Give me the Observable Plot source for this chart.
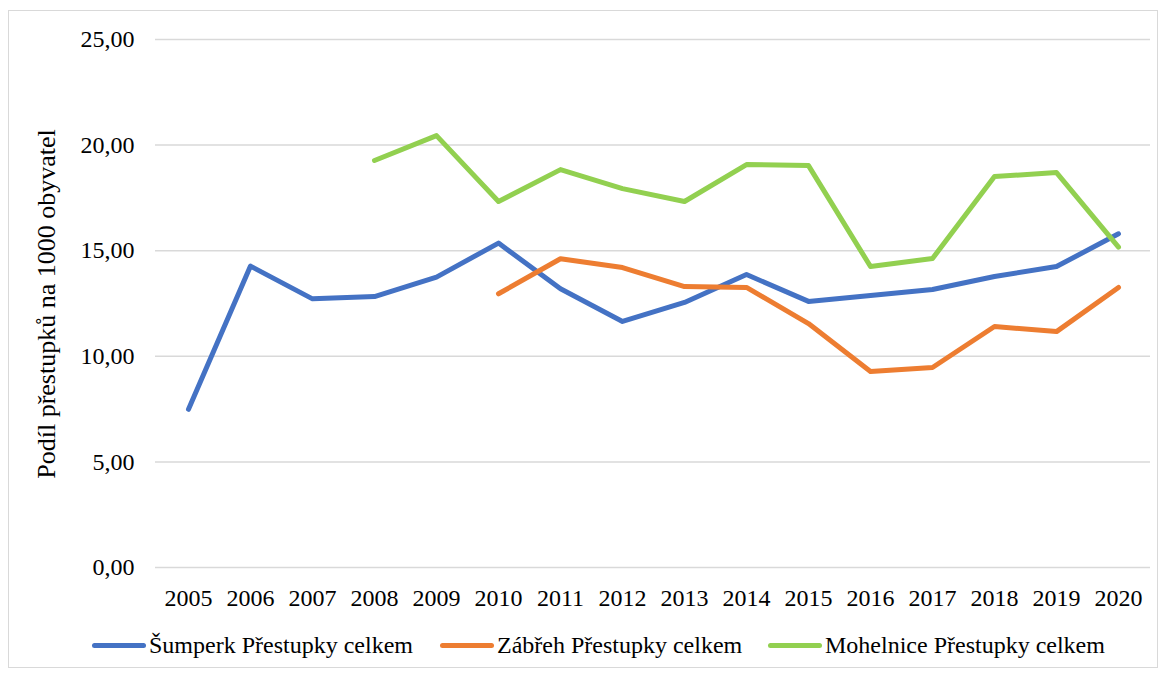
<!DOCTYPE html>
<html>
<head>
<meta charset="utf-8">
<script src="https://cdn.jsdelivr.net/npm/d3@7"></script>
<script src="https://cdn.jsdelivr.net/npm/@observablehq/plot@0.6"></script>
</head>
<body style="margin:0;background:#fff;font-family:'Liberation Serif',serif;">
<div id="wrap" style="position:relative;width:1169px;height:675px;font-family:'Liberation Serif',serif;">
  <div id="border" style="position:absolute;left:8px;top:10px;width:1150px;height:658px;border:1px solid #d9d9d9;box-sizing:border-box;"></div>
  <div id="chart" style="position:absolute;left:0;top:0;"></div>
  <div id="ytitle" style="position:absolute;left:47px;top:304px;width:0;height:0;"></div>
  <div id="legend" style="position:absolute;top:631px;left:0;width:1169px;height:28px;"></div>
</div>
<script>
const years = ["2005","2006","2007","2008","2009","2010","2011","2012","2013","2014","2015","2016","2017","2018","2019","2020"];
const seriesNames = ["Šumperk Přestupky celkem", "Zábřeh Přestupky celkem", "Mohelnice Přestupky celkem"];
const colors = ["#4472C4", "#ED7D31", "#92D050"];
const sumperk   = [7.49, 14.27, 12.72, 12.83, 13.75, 15.36, 13.20, 11.65, 12.55, 13.87, 12.60, 12.88, 13.16, 13.78, 14.25, 15.80];
const zabreh    = [null, null, null, null, null, 12.96, 14.62, 14.20, 13.30, 13.26, 11.55, 9.28, 9.47, 11.41, 11.17, 13.26];
const mohelnice = [null, null, null, 19.27, 20.45, 17.33, 18.84, 17.94, 17.33, 19.08, 19.03, 14.25, 14.63, 18.51, 18.70, 15.17];
const yTicks = [0, 5, 10, 15, 20, 25];
const yTitle = "Podíl přestupků na 1000 obyvatel";

const FONT = "'Liberation Serif', serif";
const allSeries = [sumperk, zabreh, mohelnice];
const data = [];
allSeries.forEach((arr, s) => arr.forEach((v, i) => {
  if (v != null) data.push({series: seriesNames[s], year: years[i], value: v});
}));

const fmt = d => d.toFixed(2).replace(".", ",");

const plot = Plot.plot({
  width: 1169,
  height: 620,
  marginLeft: 155,
  marginRight: 19,
  marginTop: 39,
  marginBottom: 53,
  style: { fontFamily: FONT, fontSize: "24px", color: "#000", background: "transparent" },
  x: { type: "point", domain: years, padding: 0.5, label: null },
  y: { domain: [0, 25], ticks: yTicks, label: null },
  color: { domain: seriesNames, range: colors },
  marks: [
    Plot.ruleY(yTicks, { stroke: "#d9d9d9", strokeWidth: 1.5, strokeOpacity: 1 }),
    Plot.axisY({ ticks: yTicks, tickFormat: fmt, tickSize: 0, tickPadding: 21, label: null, fontSize: 24, fontFamily: FONT, fill: "#000" }),
    Plot.axisX({ tickSize: 0, tickPadding: 21, label: null, fontSize: 24, fontFamily: FONT, fill: "#000" }),
    Plot.line(data, { x: "year", y: "value", z: "series", stroke: "series", strokeWidth: 5, strokeLinecap: "round", strokeLinejoin: "round" })
  ]
});
plot.setAttribute("font-family", FONT);
document.getElementById("chart").appendChild(plot);

const t = document.createElement("div");
t.textContent = yTitle;
t.style.cssText = "position:absolute;left:0;top:0;white-space:nowrap;font-family:'Liberation Serif',serif;font-size:26px;line-height:26px;color:#000;transform:translate(-50%,-50%) rotate(-90deg);";
document.getElementById("ytitle").appendChild(t);

const legendPos = [92, 440, 768];
const legend = document.getElementById("legend");
seriesNames.forEach((name, i) => {
  const it = document.createElement("div");
  it.style.cssText = "position:absolute;top:0;display:flex;align-items:center;height:28px;white-space:nowrap;font-family:'Liberation Serif',serif;font-size:24px;color:#000;left:" + legendPos[i] + "px;";
  const sw = document.createElement("span");
  sw.style.cssText = "display:inline-block;width:54px;height:5px;border-radius:3px;margin-right:3px;background:" + colors[i] + ";";
  it.appendChild(sw);
  it.appendChild(document.createTextNode(name));
  legend.appendChild(it);
});
</script>
</body>
</html>
